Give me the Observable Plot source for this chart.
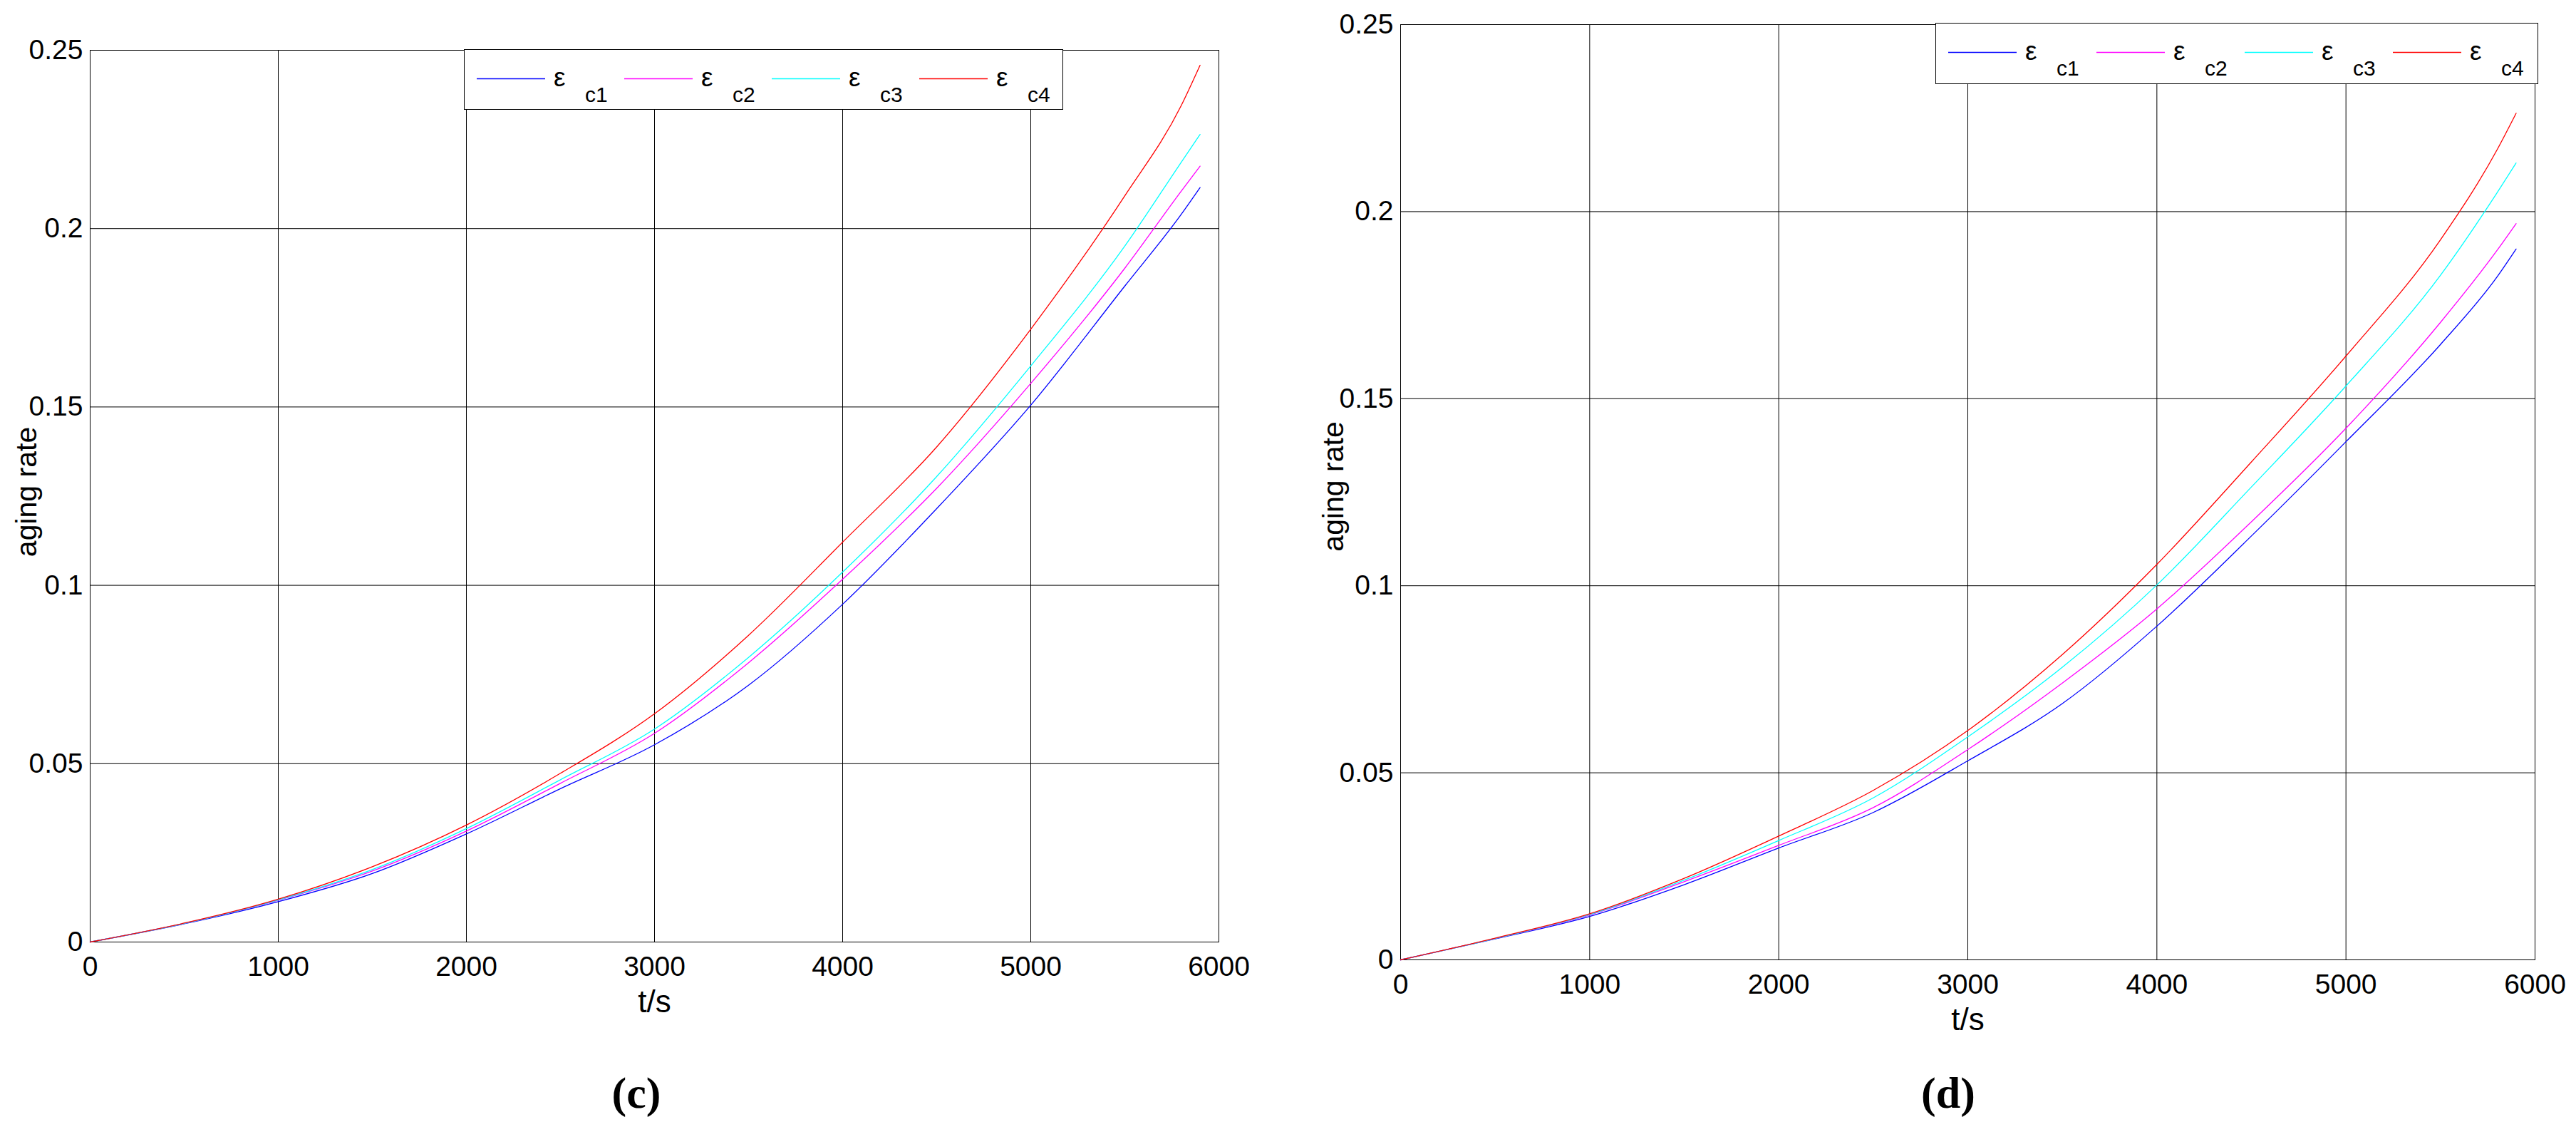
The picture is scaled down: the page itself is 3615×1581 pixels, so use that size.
<!DOCTYPE html>
<html>
<head>
<meta charset="utf-8">
<script src="https://cdn.jsdelivr.net/npm/d3@7"></script>
<script src="https://cdn.jsdelivr.net/npm/@observablehq/plot@0.6"></script>
<style>
  html, body { margin: 0; padding: 0; background: #fff; }
  body { width: 3615px; height: 1581px; position: relative; overflow: hidden; font-family: "Liberation Sans", Arial, sans-serif; }
  .panel { position: absolute; top: 0; }
  #overlay { position: absolute; left: 0; top: 0; pointer-events: none; }
</style>
</head>
<body>
<div id="panelC" class="panel" style="left:0px"></div>
<div id="panelD" class="panel" style="left:1850px"></div>
<svg id="overlay" width="3615" height="1581"></svg>
<script>
// ---- data ----
const xTicks = [0, 1000, 2000, 3000, 4000, 5000, 6000];
const yTicks = [0, 0.05, 0.1, 0.15, 0.2, 0.25];
const seriesNames = ["c1", "c2", "c3", "c4"];
const seriesColors = ["#0000ff", "#ff00ff", "#00ffff", "#ff0000"];
const panelCaptions = ["(c)", "(d)"];
const xLabel = "t/s";
const yLabel = "aging rate";

// panel (c)
const timeC = [0, 500, 1000, 1500, 2000, 2500, 3000, 3500, 4000, 4500, 5000, 5500, 5800, 5900];
const c1C = [0, 0.0051, 0.0113, 0.0192, 0.0303, 0.0430, 0.0553, 0.0720, 0.0947, 0.1215, 0.1505, 0.1839, 0.2040, 0.2115];
const c2C = [0, 0.0052, 0.0117, 0.0199, 0.0311, 0.0445, 0.0585, 0.0783, 0.1017, 0.1272, 0.1566, 0.1889, 0.2105, 0.2175];
const c3C = [0, 0.0052, 0.0118, 0.0203, 0.0318, 0.0455, 0.0597, 0.0798, 0.1037, 0.1305, 0.1615, 0.1951, 0.2186, 0.2264];
const c4C = [0, 0.0053, 0.0120, 0.0211, 0.0328, 0.0473, 0.0640, 0.0860, 0.1121, 0.1388, 0.1718, 0.2092, 0.2345, 0.2458];

// panel (d)
const timeD = [0, 500, 1000, 1500, 2000, 2500, 3000, 3500, 4000, 4500, 5000, 5500, 5800, 5900];
const c1D = [0, 0.0056, 0.0116, 0.0201, 0.0299, 0.0394, 0.0532, 0.0685, 0.0892, 0.1133, 0.1385, 0.1645, 0.1826, 0.1900];
const c2D = [0, 0.0057, 0.0120, 0.0209, 0.0306, 0.0407, 0.0562, 0.0740, 0.0938, 0.1171, 0.1421, 0.1704, 0.1897, 0.1968];
const c3D = [0, 0.0057, 0.0121, 0.0213, 0.0319, 0.0433, 0.0596, 0.0782, 0.1002, 0.1264, 0.1534, 0.1830, 0.2051, 0.2130];
const c4D = [0, 0.0058, 0.0123, 0.0218, 0.0331, 0.0453, 0.0613, 0.0816, 0.1057, 0.1331, 0.1614, 0.1925, 0.2166, 0.2263];

function longTable(time, arrays) {
  const rows = [];
  arrays.forEach((arr, i) => arr.forEach((v, j) => rows.push({series: seriesNames[i], t: time[j], v})));
  return rows;
}
const dataC = longTable(timeC, [c1C, c2C, c3C, c4C]);
const dataD = longTable(timeD, [c1D, c2D, c3D, c4D]);

const FONT = '"Liberation Sans", Arial, Helvetica, sans-serif';

function makePanel(data, cfg) {
  return Plot.plot({
    width: cfg.width,
    height: cfg.height,
    marginLeft: cfg.ml,
    marginRight: cfg.mr,
    marginTop: cfg.mt,
    marginBottom: cfg.mb,
    style: {fontFamily: FONT, fontSize: "39px", color: "#000", background: "transparent", overflow: "visible"},
    x: {domain: [0, 6000]},
    y: {domain: [0, 0.25]},
    color: {domain: seriesNames, range: seriesColors},
    marks: [
      Plot.gridX(xTicks, {stroke: "#000", strokeOpacity: 1, strokeWidth: 1}),
      Plot.gridY(yTicks, {stroke: "#000", strokeOpacity: 1, strokeWidth: 1}),
      Plot.frame({stroke: "#000", strokeWidth: 1}),
      Plot.axisX(xTicks, {tickSize: 0, tickPadding: 20, tickFormat: d3.format("d"), fontSize: 39, label: null}),
      Plot.axisY(yTicks, {tickSize: 0, tickPadding: 10, tickFormat: d => String(d), fontSize: 39, label: null}),
      Plot.text([xLabel], {frameAnchor: "bottom", text: d => d, fontSize: 44, textAnchor: "middle", lineAnchor: "middle", dy: 84, fill: "#000"}),
      Plot.text([yLabel], {frameAnchor: "left", text: d => d, fontSize: 41, rotate: -90, textAnchor: "middle", lineAnchor: "middle", dx: cfg.yLabelDx, dy: cfg.yLabelDy, fill: "#000"}),
      Plot.line(data, {x: "t", y: "v", z: "series", stroke: "series", strokeWidth: 1.3, curve: "monotone-x"})
    ]
  });
}

document.getElementById("panelC").appendChild(makePanel(dataC, {
  width: 1800, height: 1450, ml: 126, mr: 90, mt: 70, mb: 129, yLabelDx: -89, yLabelDy: -6
}));
document.getElementById("panelD").appendChild(makePanel(dataD, {
  width: 1765, height: 1450, ml: 115, mr: 58, mt: 34, mb: 104, yLabelDx: -94, yLabelDy: -8
}));

// ---- legends and captions (overlay) ----
const overlay = d3.select("#overlay");
const legends = [
  {x: 651, y: 69, w: 840, h: 84, pitch: 207, capX: 893},
  {x: 2716, y: 32, w: 845, h: 85, pitch: 208, capX: 2734}
];
legends.forEach((L, k) => {
  const g = overlay.append("g").attr("transform", `translate(${L.x},${L.y})`);
  g.append("rect").attr("x", 0.5).attr("y", 0.5).attr("width", L.w).attr("height", L.h)
    .attr("fill", "#fff").attr("stroke", "#000").attr("stroke-width", 1);
  seriesNames.forEach((name, i) => {
    const x0 = 18 + L.pitch * i;
    g.append("line").attr("x1", x0).attr("x2", x0 + 96).attr("y1", 41.5).attr("y2", 41.5)
      .attr("stroke", seriesColors[i]).attr("stroke-width", 1.3);
    g.append("text").attr("x", x0 + 108).attr("y", 52).attr("font-family", FONT)
      .attr("font-size", 37).text("ε");
    g.append("text").attr("x", x0 + 152).attr("y", 74).attr("font-family", FONT)
      .attr("font-size", 30).text(name);
  });
  overlay.append("text").attr("x", L.capX).attr("y", 1554).attr("text-anchor", "middle")
    .attr("font-family", '"Liberation Serif", "Times New Roman", serif').attr("font-weight", "bold")
    .attr("font-size", 62).text(panelCaptions[k]);
});
</script>
</body>
</html>
